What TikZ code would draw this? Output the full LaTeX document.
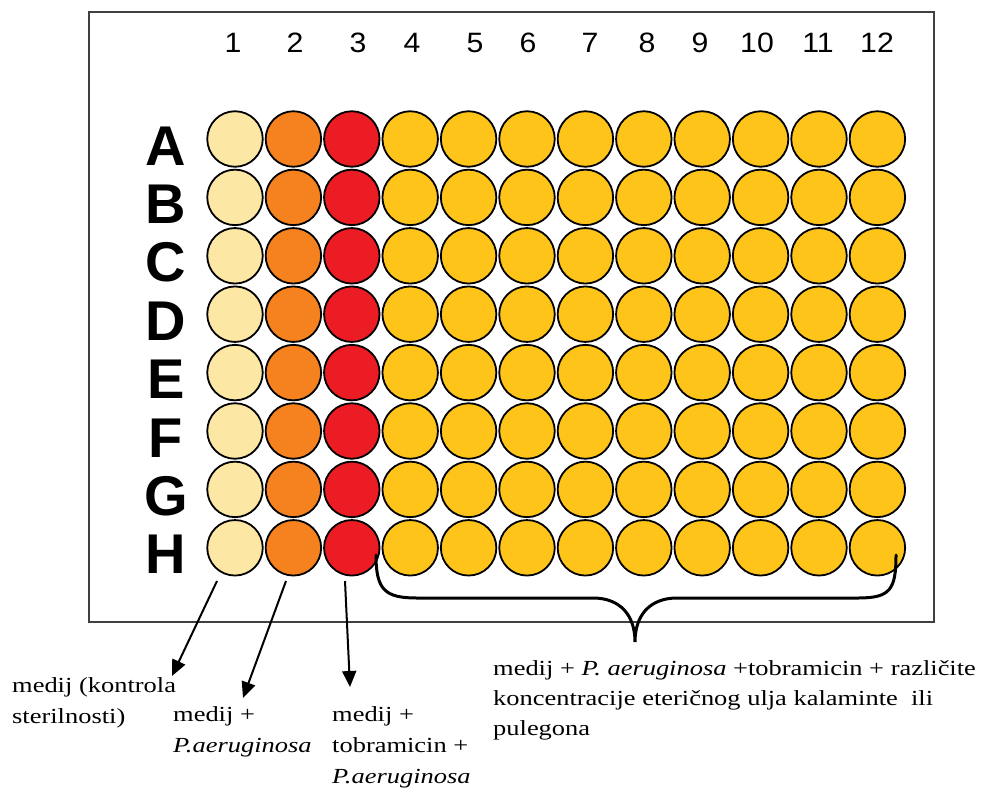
\documentclass[tikz,border=0pt]{standalone}
\usepackage{fontspec}
\usepackage{graphicx}
\setmainfont{Liberation Serif}
\newfontfamily\arialf{Liberation Sans}
\newfontfamily\arialw[FakeStretch=1.08]{Liberation Sans}
\usetikzlibrary{arrows.meta}
\definecolor{wpale}{HTML}{FCE7A5}
\definecolor{worange}{HTML}{F6821F}
\definecolor{wred}{HTML}{EC1C24}
\definecolor{wgold}{HTML}{FEC41A}
\newcommand\stretchlab[1]{\scalebox{1.23}[1]{\begin{tabular}[b]{@{}l@{}}#1\end{tabular}}}
\begin{document}
\begin{tikzpicture}[x=1pt,y=-1pt,
  well/.style={circle,draw=black,line width=1.8pt,minimum size=55.5pt,inner sep=0pt},
  colnum/.style={anchor=base,inner sep=0pt,font=\arialw\fontsize{28}{30}\selectfont},
  rowlab/.style={anchor=base,inner sep=0pt,font=\arialf\bfseries\fontsize{56}{60}\selectfont},
  lab/.style={anchor=base west,inner sep=0pt,font=\rmfamily\fontsize{21.5}{31}\selectfont},
  arr/.style={line width=2pt,-{Triangle[length=16pt,width=14pt]}},
  brace/.style={line width=3pt,line cap=round}]
\useasboundingbox (0,0) rectangle (990,789);
\draw[line width=2.2pt,draw=black!75] (89,12) rectangle (934,622);
% column numbers
\foreach \n/\x in {1/233,2/295,3/358,4/412,5/475,6/528,7/590,8/647,9/700,10/757,11/818,12/877}
  \node[colnum] (col-\n) at (\x,53) {\n};
% wells and row letters
\foreach \r [count=\i from 0] in {A,B,C,D,E,F,G,H}{
  \pgfmathsetmacro\yy{139+58.4*\i}
  \node[rowlab] (row-\r) at (166,\yy+26) {\r};
  \node[well,fill=wpale] (w-\r-1) at (235,\yy) {};
  \node[well,fill=worange] (w-\r-2) at (293.4,\yy) {};
  \node[well,fill=wred] (w-\r-3) at (351.8,\yy) {};
  \foreach \c in {4,...,12}
    \node[well,fill=wgold] (w-\r-\c) at ({235+58.4*(\c-1)},\yy) {};
}
% labels (anchor = baseline of last line)
\node[lab] (lab1) at (12,723) {\stretchlab{medij (kontrola\\sterilnosti)}};
\node[lab] (lab2) at (173,752) {\stretchlab{medij +\\\textit{P.aeruginosa}}};
\node[lab] (lab3) at (332,783) {\stretchlab{medij +\\tobramicin +\\\textit{P.aeruginosa}}};
\node[lab,font=\rmfamily\fontsize{21.5}{30}\selectfont] (lab4) at (493,735) {\stretchlab{medij + \textit{P. aeruginosa} +tobramicin + različite\\koncentracije eteričnog ulja kalaminte~ ili\\pulegona}};
% arrows
\coordinate (a1s) at (217,581);
\coordinate (a1e) at (172,676);
\coordinate (a2s) at (286,581);
\coordinate (a2e) at (243,698);
\coordinate (a3s) at (345,581);
\coordinate (a3e) at (350,687);
\draw[arr] (a1s) -- (a1e);
\draw[arr] (a2s) -- (a2e);
\draw[arr] (a3s) -- (a3e);
% brace
\coordinate (brL) at (376,555);
\coordinate (brT) at (635,642);
\coordinate (brR) at (896,555);
\draw[brace] (brL) .. controls (376,590) and (385,598) .. (417,598) -- (593,598)
  .. controls (620,598) and (635,615) .. (brT)
  .. controls (635,615) and (650,598) .. (677,598) -- (858,598)
  .. controls (890,598) and (896,590) .. (brR);
\end{tikzpicture}
\end{document}
